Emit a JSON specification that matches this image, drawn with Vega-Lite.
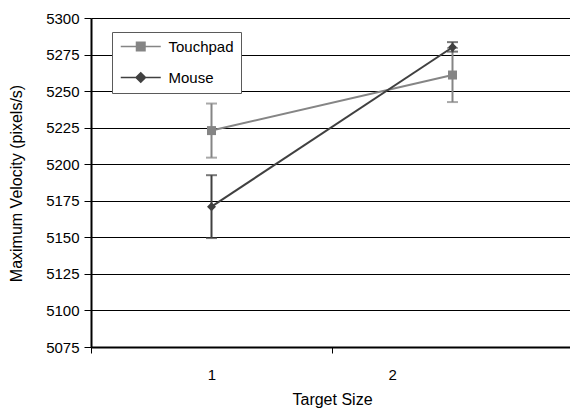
{
  "$schema": "https://vega.github.io/schema/vega-lite/v6.json",
  "width": 482,
  "height": 329,
  "autosize": {"type": "none"},
  "padding": {"left": 91, "top": 18, "right": 0, "bottom": 63},
  "background": "white",
  "config": {"view": {"stroke": null}, "font": "Liberation Sans"},
  "data": {
    "values": [
      {"device": "Touchpad", "size": 1, "mean": 5223, "lo": 5204.5, "hi": 5241.5},
      {"device": "Touchpad", "size": 2, "mean": 5261, "lo": 5242.5, "hi": 5279.5},
      {"device": "Mouse", "size": 1, "mean": 5171, "lo": 5149.5, "hi": 5192.5},
      {"device": "Mouse", "size": 2, "mean": 5280, "lo": 5277, "hi": 5283.5}
    ]
  },
  "encoding": {
    "x": {
      "field": "size",
      "type": "quantitative",
      "scale": {"domain": [0.5, 2.5], "nice": false, "zero": false},
      "axis": {
        "title": "Target Size",
        "values": [0.5, 1, 1.5, 1.75],
        "labelExpr": "datum.value == 1 ? '1' : (datum.value == 1.75 ? '2' : '')",
        "grid": false,
        "domainColor": "black",
        "domainWidth": 2,
        "tickSize": 6,
        "tickWidth": 1,
        "tickColor": {"condition": {"test": "datum.value == 0.5 || datum.value == 1.5", "value": "black"}, "value": "transparent"},
        "labelFont": "Liberation Sans",
        "labelFontSize": 15,
        "labelColor": "black",
        "labelBaseline": "middle",
        "labelPadding": 21,
        "labelFlush": false,
        "labelOverlap": false,
        "titleFont": "Liberation Sans",
        "titleFontSize": 16,
        "titleFontWeight": "normal",
        "titleColor": "black",
        "titleBaseline": "middle",
        "titleX": 241,
        "titleY": 52
      }
    },
    "y": {
      "field": "mean",
      "type": "quantitative",
      "scale": {"domain": [5075, 5300], "nice": false, "zero": false},
      "axis": {
        "title": "Maximum Velocity (pixels/s)",
        "values": [5075, 5100, 5125, 5150, 5175, 5200, 5225, 5250, 5275, 5300],
        "format": "d",
        "grid": true,
        "gridColor": "black",
        "gridWidth": 1,
        "domainColor": "black",
        "domainWidth": 2,
        "tickColor": "black",
        "tickSize": 7,
        "tickWidth": 1,
        "labelFont": "Liberation Sans",
        "labelFontSize": 15,
        "labelColor": "black",
        "labelPadding": 5,
        "labelFlush": false,
        "labelOverlap": false,
        "titleFont": "Liberation Sans",
        "titleFontSize": 16,
        "titleFontWeight": "normal",
        "titleColor": "black",
        "titleBaseline": "middle",
        "titleX": -75,
        "titleY": 165
      }
    },
    "color": {
      "field": "device",
      "type": "nominal",
      "scale": {"domain": ["Touchpad", "Mouse"], "range": ["#858585", "#404040"]},
      "legend": {
        "title": null,
        "orient": "none",
        "legendX": 21,
        "legendY": 14,
        "padding": 7,
        "strokeColor": "#5a5a5a",
        "fillColor": "white",
        "labelFont": "Liberation Sans",
        "labelFontSize": 15,
        "labelColor": "black",
        "labelOffset": 34.5,
        "rowPadding": 14,
        "symbolSize": 100,
        "symbolStrokeWidth": 1.5,
        "encode": {
          "legend": {"update": {"stroke": {"value": "#5a5a5a"}, "strokeWidth": {"value": 1}}},
          "symbols": {
            "update": {
              "shape": {"signal": "datum.value == 'Touchpad' ? 'M-1.15,0H6.85M2,-0.85H3.7V0.85H2Z' : 'M-1.15,0H6.85M2.85,-0.95L3.8,0L2.85,0.95L1.9,0Z'"},
              "fill": {"signal": "scale('color', datum.value)"},
              "stroke": {"signal": "scale('color', datum.value)"},
              "strokeWidth": {"value": 1.5},
              "opacity": {"value": 1}
            }
          }
        }
      }
    }
  },
  "layer": [
    {
      "mark": {"type": "rule", "strokeWidth": 2},
      "encoding": {"y": {"field": "lo", "type": "quantitative"}, "y2": {"field": "hi"}}
    },
    {
      "mark": {"type": "tick", "orient": "horizontal", "size": 11, "thickness": 2},
      "encoding": {"y": {"field": "lo", "type": "quantitative"}}
    },
    {
      "mark": {"type": "tick", "orient": "horizontal", "size": 11, "thickness": 2},
      "encoding": {"y": {"field": "hi", "type": "quantitative"}}
    },
    {
      "mark": {"type": "line", "strokeWidth": 2}
    },
    {
      "transform": [{"filter": "datum.device == 'Touchpad'"}],
      "mark": {"type": "point", "filled": true, "size": 81, "opacity": 1, "shape": "square"}
    },
    {
      "transform": [{"filter": "datum.device == 'Mouse'"}],
      "mark": {"type": "point", "filled": true, "size": 81, "opacity": 1, "shape": "diamond"}
    }
  ]
}
